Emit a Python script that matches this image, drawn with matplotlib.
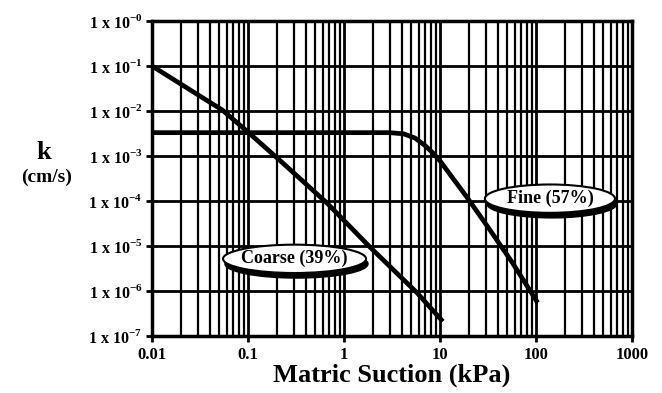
import matplotlib
matplotlib.use("Agg")
import matplotlib.pyplot as plt
from matplotlib.patches import Ellipse
from matplotlib.ticker import FixedLocator, FixedFormatter

# データ
coarse_suction = [0.01, 0.03, 0.054, 0.1, 0.23, 0.665, 1.86, 5.8, 10.7]
coarse_k = [1.0e-1, 2.3e-2, 1.05e-2, 3.4e-3, 7.0e-4, 9.0e-5, 9.5e-6, 9.0e-7, 2.1e-7]

fine_suction = [0.01, 1.0, 3.0, 4.2, 5.5, 7.0, 8.5, 10.0, 12.0, 19.0, 33.0, 57.0, 104.0]
fine_k = [3.3e-3, 3.3e-3, 3.3e-3, 3.1e-3, 2.5e-3, 1.7e-3, 1.15e-3, 7.8e-4, 4.6e-4,
          1.23e-4, 2.3e-5, 4.2e-6, 5.5e-7]

x_ticks = [0.01, 0.1, 1, 10, 100, 1000]
x_ticklabels = ["0.01", "0.1", "1", "10", "100", "1000"]
y_exponents = [0, -1, -2, -3, -4, -5, -6, -7]
y_exp_text = ["-0", "-1", "-2", "-3", "-4", "-5", "-6", "-7"]

plt.rcParams["font.family"] = ["Liberation Serif", "DejaVu Serif"]
plt.rcParams["font.weight"] = "bold"
plt.rcParams["mathtext.fontset"] = "custom"
plt.rcParams["mathtext.rm"] = "Liberation Serif:bold"
plt.rcParams["mathtext.bf"] = "Liberation Serif:bold"

fig = plt.figure(figsize=(6.62, 3.93), dpi=100)
ax = fig.add_axes([0.2296, 0.145, 0.7251, 0.8016])
ax.set_xscale("log")
ax.set_yscale("log")
ax.set_xlim(0.01, 1000)
ax.set_ylim(1e-7, 1)

# 縦グリッド（全ての補助目盛り）
for dec in [0.01, 0.1, 1, 10, 100]:
    for m in range(1, 10):
        ax.axvline(dec * m, color="black", lw=2.0 if m == 1 else 1.6, zorder=1)
# 横グリッド（10のべき乗のみ）
for e in y_exponents:
    ax.axhline(10.0 ** e, color="black", lw=2.0, zorder=1)

ax.plot(coarse_suction, coarse_k, color="black", lw=3.4, zorder=3,
        solid_capstyle="butt", solid_joinstyle="round")
ax.plot(fine_suction, fine_k, color="black", lw=3.4, zorder=3,
        solid_capstyle="butt", solid_joinstyle="round")


# 楕円ラベル（影付き）
def ellipse_label(cx, cy, w, h, text):
    shadow = Ellipse((cx + 0.004, cy - 0.016), w, h, transform=ax.transAxes,
                     facecolor="black", edgecolor="black", zorder=5)
    face = Ellipse((cx, cy), w, h, transform=ax.transAxes,
                   facecolor="white", edgecolor="black", lw=1.5, zorder=6)
    ax.add_patch(shadow)
    ax.add_patch(face)
    ax.text(cx, cy, text, transform=ax.transAxes, ha="center", va="center",
            fontsize=13, fontweight="bold", zorder=7)


ellipse_label(0.297, 0.245, 0.298, 0.09, "Coarse (39%)")
ellipse_label(0.829, 0.436, 0.271, 0.09, "Fine (57%)")

ax.xaxis.set_major_locator(FixedLocator(x_ticks))
ax.xaxis.set_major_formatter(FixedFormatter(x_ticklabels))
ax.xaxis.set_minor_locator(FixedLocator([]))
ax.yaxis.set_major_locator(FixedLocator([10.0 ** e for e in y_exponents]))
ax.yaxis.set_major_formatter(FixedFormatter(
    ["1 x 10$^{\\mathbf{%s}}$" % t for t in y_exp_text]))
ax.yaxis.set_minor_locator(FixedLocator([]))

ax.tick_params(axis="both", which="major", direction="out", length=4,
               width=2, colors="black", pad=3)
ax.tick_params(axis="y", labelsize=11.5)
ax.tick_params(axis="x", labelsize=12, pad=4)
for lab in ax.get_xticklabels() + ax.get_yticklabels():
    lab.set_fontweight("bold")

for s in ax.spines.values():
    s.set_linewidth(2.5)
    s.set_zorder(4)

ax.set_xlabel("Matric Suction (kPa)", fontsize=19, fontweight="bold", labelpad=0)

fig.text(0.066, 0.613, "k", fontsize=19, fontweight="bold", ha="center", va="center")
fig.text(0.07, 0.55, "(cm/s)", fontsize=14, fontweight="bold", ha="center", va="center")

fig.savefig("out.png", dpi=100)
plt.close(fig)
